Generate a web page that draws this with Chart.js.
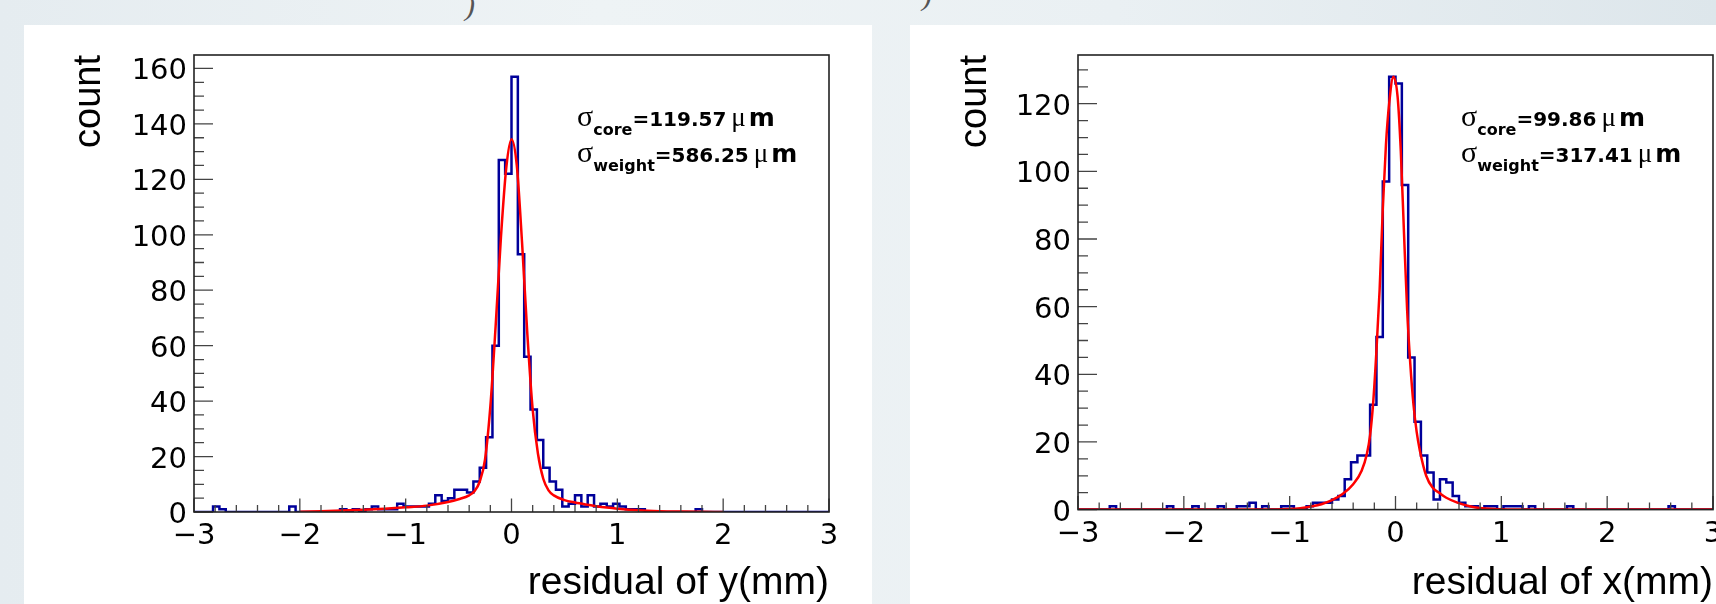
<!DOCTYPE html>
<html>
<head>
<meta charset="utf-8">
<title>residual of y / residual of x</title>
<style>
  html, body { margin: 0; padding: 0; }
  body {
    width: 1716px; height: 604px; overflow: hidden; position: relative;
    background: linear-gradient(90deg, #e5ecf0 0%, #eef3f5 35%, #eaf0f3 65%, #dde6eb 100%);
  }
  .panel { position: absolute; top: 25px; height: 579px; background: #fff; }
  #pl { left: 24px; width: 848px; }
  #pr { left: 910px; width: 806px; }
  .panel canvas { position: absolute; top: 0; left: 0; }
  .frag { position: absolute; font: italic 30px "Liberation Serif"; color: #555; }
</style>
</head>
<body>
<div class="frag" style="left:465px; top:-12px">)</div>
<div class="frag" style="left:922px; top:-22px">)</div>
<div class="panel" id="pl"><canvas id="cy" width="848" height="590"></canvas></div>
<div class="panel" id="pr"><canvas id="cx" width="850" height="590"></canvas></div>

<script src="https://cdn.jsdelivr.net/npm/chart.js"></script>
<script>
// 100 bins of 0.06 mm from -3 to 3
const binLow = -3, binWidth = 0.06;

// residual of y, counts per bin
const countsY = [
  0,0,0,2,1,0,0,0,0,0,
  0,0,0,0,0,2,0,0,0,0,
  0,0,0,1,0,1,0,1,2,1,
  1,1,3,2,2,2,2,3,6,4,
  5,8,8,7,11,16,27,60,127,122,
  157,93,56,37,26,16,11,8,2,3,
  6,2,6,2,3,2,3,2,1,1,
  1,0,0,0,0,0,0,0,0,1,
  0,0,0,0,0,0,0,0,0,0,
  0,0,0,0,0,0,0,0,0,0
];
// residual of x, counts per bin
const countsX = [
  0,0,0,0,0,1,0,0,0,0,
  0,0,0,0,1,0,0,0,1,0,
  0,0,1,0,0,1,1,2,0,1,
  0,0,1,1,0,0,1,2,2,2,
  3,4,9,14,16,16,31,51,97,128,
  126,96,45,26,16,11,3,9,8,4,
  2,1,1,0,1,1,0,1,1,1,
  0,1,0,0,0,0,0,1,0,0,
  0,0,0,0,0,0,0,0,0,0,
  0,0,0,1,0,0,0,0,0,0
];

// fitted curves
const fitYx = [-2.0,-1.8,-1.6,-1.4,-1.2,-1.0,-0.8,-0.6,-0.5,-0.4,-0.35,-0.3,-0.25,-0.2,-0.15,-0.1,-0.05,0,
               0.05,0.1,0.15,0.2,0.25,0.3,0.35,0.4,0.5,0.6,0.7,0.8,0.9,1.0,1.2,1.4,1.6,1.8,2.0];
const fitYv = [0.1,0.3,0.5,0.8,1.2,1.7,2.3,3.6,4.6,6.0,7.5,11,19,38,67,99,124,134.5,
               125,97,64,37,21,12,7.8,6.0,4.3,3.4,2.7,2.1,1.6,1.2,0.6,0.3,0.15,0.05,0];
const fitXx = [-3,-2,-1.5,-1.2,-1.0,-0.9,-0.8,-0.7,-0.6,-0.5,-0.4,-0.32,-0.27,-0.24,-0.21,-0.18,-0.15,-0.12,-0.09,-0.06,-0.02,
               0.02,0.05,0.08,0.11,0.14,0.17,0.2,0.23,0.29,0.35,0.42,0.48,0.59,0.7,0.82,1.0,1.3,2,3];
const fitXv = [0,0,0,0.05,0.15,0.4,0.9,1.6,2.8,4.6,7.5,11.5,16.5,22,32,47,65,89,108,120,128,
               122,106,82,59,43,31,23,17.5,10,6.5,4.8,3.5,2.0,1.0,0.4,0.1,0,0,0];

const sigmaY = [['core', '119.57'], ['weight', '586.25']];
const sigmaX = [['core', '99.86'], ['weight', '317.41']];

function stepPoints(counts) {
  const pts = counts.map((c, i) => ({x: binLow + i * binWidth, y: c}));
  pts.push({x: binLow + counts.length * binWidth, y: counts[counts.length - 1]});
  return pts;
}

function drawSigma(ctx, x, y, sub, val) {
  ctx.textBaseline = 'alphabetic';
  ctx.textAlign = 'left';
  ctx.fillStyle = '#000';
  ctx.font = '30px "Liberation Serif"';
  ctx.fillText('\u03c3', x, y);
  x += ctx.measureText('\u03c3').width;
  ctx.font = 'bold 16px "DejaVu Sans"';
  ctx.fillText(sub, x, y + 9);
  x += ctx.measureText(sub).width;
  ctx.font = 'bold 20px "DejaVu Sans"';
  ctx.fillText('=' + val, x, y);
  x += ctx.measureText('=' + val).width + 5;
  ctx.font = '27px "Liberation Serif"';
  ctx.fillText('\u03bc', x, y);
  x += ctx.measureText('\u03bc').width + 3;
  ctx.font = 'bold 25px "DejaVu Sans"';
  ctx.fillText('m', x, y);
}

// ROOT style frame, inner ticks and the sigma text
const rootFrame = {
  id: 'rootFrame',
  afterDatasetsDraw(chart, args, opts) {
    const {ctx, chartArea: a, scales: {x, y}} = chart;
    ctx.save();
    ctx.strokeStyle = '#444';
    ctx.lineWidth = 1.3;
    ctx.beginPath();
    for (let i = 0; i <= 30; i++) {
      const px = x.getPixelForValue(-3 + i * 0.2);
      ctx.moveTo(px, a.bottom);
      ctx.lineTo(px, a.bottom - (i % 5 === 0 ? 13.5 : 7));
    }
    for (let v = 0; v <= y.max; v += 5) {
      const py = y.getPixelForValue(v);
      ctx.moveTo(a.left, py);
      ctx.lineTo(a.left + (v % 20 === 0 ? 19 : 10), py);
    }
    ctx.stroke();
    ctx.strokeStyle = '#222';
    ctx.lineWidth = 1.6;
    ctx.strokeRect(a.left, a.top, a.right - a.left, a.bottom - a.top);
    opts.sigma.forEach((s, k) => drawSigma(ctx, a.left + 383, a.top + 71 + k * 36, s[0], s[1]));
    ctx.restore();
  }
};

function makeChart(id, counts, fx, fv, yMax, xTitle, sigma, padRight, axisH, yAxisW) {
  const fit = fx.map((v, i) => ({x: v, y: fv[i]}));
  return new Chart(document.getElementById(id), {
    type: 'line',
    data: {
      datasets: [
        {data: fit, borderColor: '#ff0000', borderWidth: 2.5, pointRadius: 0,
         cubicInterpolationMode: 'monotone', fill: false},
        {data: stepPoints(counts), borderColor: '#00009a', borderWidth: 2.5, pointRadius: 0,
         stepped: true, fill: false}
      ]
    },
    options: {
      responsive: false,
      animation: false,
      events: [],
      layout: {padding: {left: 0, right: padRight, top: 30, bottom: 0}},
      plugins: {legend: {display: false}, tooltip: {enabled: false}, rootFrame: {sigma: sigma}},
      scales: {
        x: {
          type: 'linear', min: -3, max: 3,
          grid: {display: false, drawTicks: false, tickLength: 0},
          border: {display: false},
          ticks: {
            stepSize: 1, maxRotation: 0, padding: 7, color: '#000',
            font: {family: '"DejaVu Sans"', size: 29},
            callback: v => v < 0 ? '\u2212' + (-v) : String(v)
          },
          title: {display: true, text: xTitle, align: 'end', color: '#000',
                  font: {family: '"Liberation Sans"', size: 39}, padding: {top: 0, bottom: 8}},
          afterFit: s => { s.height = axisH; }
        },
        y: {
          type: 'linear', min: 0, max: yMax,
          grid: {display: false, drawTicks: false, tickLength: 0},
          border: {display: false},
          ticks: {
            stepSize: 20, includeBounds: false, padding: 7, labelOffset: 3.5, color: '#000',
            font: {family: '"DejaVu Sans"', size: 29}
          },
          title: {display: true, text: 'count', align: 'end', color: '#000',
                  font: {family: '"Liberation Sans"', size: 38}, padding: {top: 43, bottom: 0}},
          afterFit: s => { s.width = yAxisW; }
        }
      }
    },
    plugins: [rootFrame]
  });
}

makeChart('cy', countsY, fitYx, fitYv, 164.85, 'residual of y(mm)', sigmaY, 43, 103, 170);
makeChart('cx', countsX, fitXx, fitXv, 134.4, 'residual of x(mm)', sigmaX, 47, 105.4, 168);
</script>
</body>
</html>
